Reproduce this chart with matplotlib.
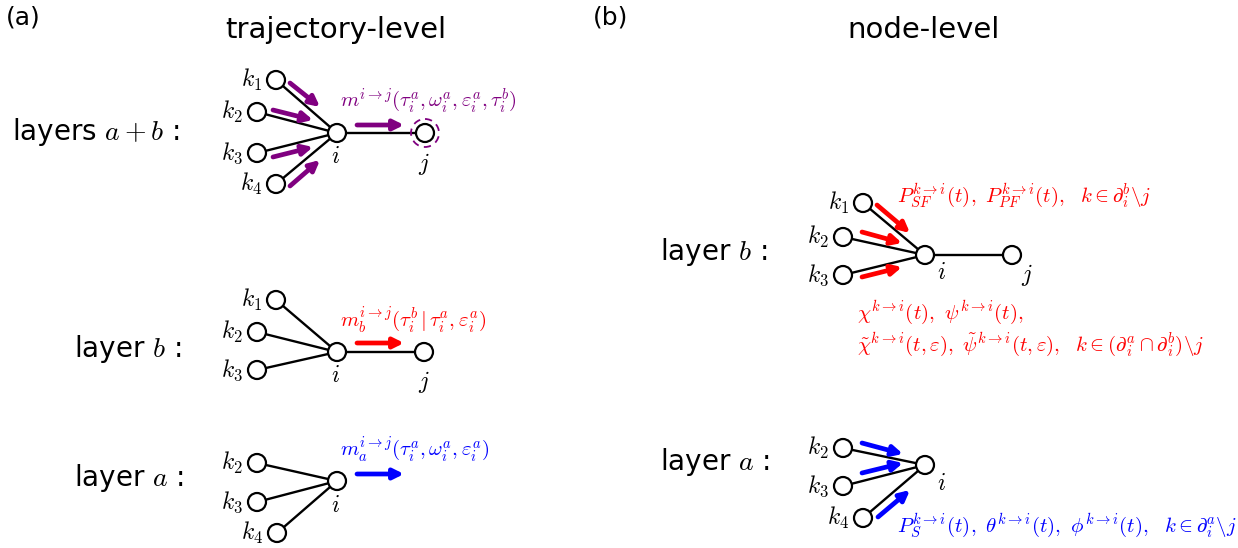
import matplotlib
matplotlib.use("Agg")
import matplotlib.pyplot as plt
from matplotlib.patches import Circle, FancyArrowPatch

plt.rcParams['mathtext.fontset'] = 'cm'
plt.rcParams['font.family'] = ['DejaVu Sans']

W, H = 1238, 548
R = 9  # node radius in px

# ---- diagram data (pixel coords, y downwards) ----
# panel (a), layers a+b
ab_nodes = {'k1': (276, 80), 'k2': (257, 112), 'k3': (257, 153), 'k4': (276, 184),
            'i': (337, 133), 'j': (425, 133)}
ab_edges = [('k1', 'i'), ('k2', 'i'), ('k3', 'i'), ('k4', 'i'), ('i', 'j')]
ab_arrows = [((290, 83), (320, 107)), ((273, 110), (313, 120)),
             ((273, 157), (313, 147)), ((290, 186), (320, 160)), ((357, 125), (404, 125))]

# panel (a), layer b
b_nodes = {'k1': (276, 300), 'k2': (257, 332), 'k3': (257, 370),
           'i': (337, 352), 'j': (424, 352)}
b_edges = [('k1', 'i'), ('k2', 'i'), ('k3', 'i'), ('i', 'j')]
b_arrows = [((357, 343), (404, 343))]

# panel (a), layer a
a_nodes = {'k2': (257, 463), 'k3': (257, 502), 'k4': (277, 533), 'i': (337, 481)}
a_edges = [('k2', 'i'), ('k3', 'i'), ('k4', 'i')]
a_arrows = [((357, 474), (404, 474))]

# panel (b), layer b
nb_nodes = {'k1': (863, 203), 'k2': (843, 237), 'k3': (843, 275),
            'i': (925, 255), 'j': (1012, 255)}
nb_edges = [('k1', 'i'), ('k2', 'i'), ('k3', 'i'), ('i', 'j')]
nb_arrows = [((877, 205), (910, 233)), ((862, 232), (902, 243)), ((862, 277), (902, 267))]

# panel (b), layer a
na_nodes = {'k2': (843, 448), 'k3': (843, 486), 'k4': (863, 518), 'i': (925, 465)}
na_edges = [('k2', 'i'), ('k3', 'i'), ('k4', 'i')]
na_arrows = [((862, 443), (903, 454)), ((862, 473), (903, 463)), ((878, 517), (910, 490))]

PURPLE, RED, BLUE = '#800080', '#ff0000', '#0000ff'
MATH_FS = 15
LABEL_FS = 20

fig = plt.figure(figsize=(W / 100, H / 100), dpi=100)
ax = fig.add_axes([0, 0, 1, 1])
ax.set_xlim(0, W)
ax.set_ylim(H, 0)
ax.axis('off')


def draw_graph(nodes, edges):
    for a, b in edges:
        (x1, y1), (x2, y2) = nodes[a], nodes[b]
        ax.plot([x1, x2], [y1, y2], color='black', lw=1.7, zorder=1)
    for name, (x, y) in nodes.items():
        ax.add_patch(Circle((x, y), R, facecolor='white', edgecolor='black', lw=1.6, zorder=2))


def draw_arrows(arrows, color):
    for start, end in arrows:
        ax.add_patch(FancyArrowPatch(start, end, arrowstyle='-|>', mutation_scale=15,
                                     color=color, lw=3.4, shrinkA=0, shrinkB=0, zorder=3))


def k_labels(nodes, dx=-14, size=17):
    for name, (x, y) in nodes.items():
        if name.startswith('k'):
            ax.text(x + dx, y, r'$k_{%s}$' % name[1], ha='right', va='center', fontsize=size)


# titles
ax.text(6, 17, '(a)', fontsize=18, va='center', ha='left')
ax.text(593, 17, '(b)', fontsize=18, va='center', ha='left')
ax.text(336, 30, 'trajectory-level', fontsize=21, ha='center', va='center')
ax.text(924, 30, 'node-level', fontsize=21, ha='center', va='center')

# row labels
ax.text(12, 132, r'layers $a+b$ :', fontsize=LABEL_FS, va='center', ha='left')
ax.text(74, 349, r'layer $b$ :', fontsize=LABEL_FS, va='center', ha='left')
ax.text(74, 478, r'layer $a$ :', fontsize=LABEL_FS, va='center', ha='left')
ax.text(660, 252, r'layer $b$ :', fontsize=LABEL_FS, va='center', ha='left')
ax.text(660, 462, r'layer $a$ :', fontsize=LABEL_FS, va='center', ha='left')

# panel (a)
draw_graph(ab_nodes, ab_edges)
draw_arrows(ab_arrows, PURPLE)
k_labels(ab_nodes)
ax.text(335, 156, r'$i$', fontsize=17, ha='center', va='center')
ax.text(424, 164, r'$j$', fontsize=17, ha='center', va='center')
ax.add_patch(Circle(ab_nodes['j'], 14, fill=False, edgecolor=PURPLE, lw=1.3, ls=(0, (4, 3)), zorder=2))
ax.text(340, 101, r'$m^{i\to j}(\tau_i^a,\omega_i^a,\varepsilon_i^a,\tau_i^b)$',
        color=PURPLE, fontsize=MATH_FS, ha='left', va='center')

draw_graph(b_nodes, b_edges)
draw_arrows(b_arrows, RED)
k_labels(b_nodes)
ax.text(335, 375, r'$i$', fontsize=17, ha='center', va='center')
ax.text(424, 382, r'$j$', fontsize=17, ha='center', va='center')
ax.text(340, 320, r'$m_b^{i\to j}(\tau_i^b\,|\,\tau_i^a,\varepsilon_i^a)$',
        color=RED, fontsize=MATH_FS, ha='left', va='center')

draw_graph(a_nodes, a_edges)
draw_arrows(a_arrows, BLUE)
k_labels(a_nodes)
ax.text(335, 505, r'$i$', fontsize=17, ha='center', va='center')
ax.text(340, 450, r'$m_a^{i\to j}(\tau_i^a,\omega_i^a,\varepsilon_i^a)$',
        color=BLUE, fontsize=MATH_FS, ha='left', va='center')

# panel (b)
draw_graph(nb_nodes, nb_edges)
draw_arrows(nb_arrows, RED)
k_labels(nb_nodes)
ax.text(941, 272, r'$i$', fontsize=17, ha='center', va='center')
ax.text(1027, 275, r'$j$', fontsize=17, ha='center', va='center')
ax.text(897, 196, r'$P_{SF}^{k\to i}(t),\ P_{PF}^{k\to i}(t),\ \ k\in\partial_i^b\backslash j$',
        color=RED, fontsize=MATH_FS, ha='left', va='center')
ax.text(857, 313, r'$\chi^{k\to i}(t),\ \psi^{k\to i}(t),$',
        color=RED, fontsize=MATH_FS, ha='left', va='center')
ax.text(857, 345, r'$\tilde{\chi}^{k\to i}(t,\varepsilon),\ \tilde{\psi}^{k\to i}(t,\varepsilon),\ \ k\in(\partial_i^a\cap\partial_i^b)\backslash j$',
        color=RED, fontsize=MATH_FS, ha='left', va='center')

draw_graph(na_nodes, na_edges)
draw_arrows(na_arrows, BLUE)
k_labels(na_nodes)
ax.text(941, 483, r'$i$', fontsize=17, ha='center', va='center')
ax.text(897, 526, r'$P_S^{k\to i}(t),\ \theta^{k\to i}(t),\ \phi^{k\to i}(t),\ \ k\in\partial_i^a\backslash j$',
        color=BLUE, fontsize=MATH_FS, ha='left', va='center')

fig.savefig('out.png', dpi=100)
